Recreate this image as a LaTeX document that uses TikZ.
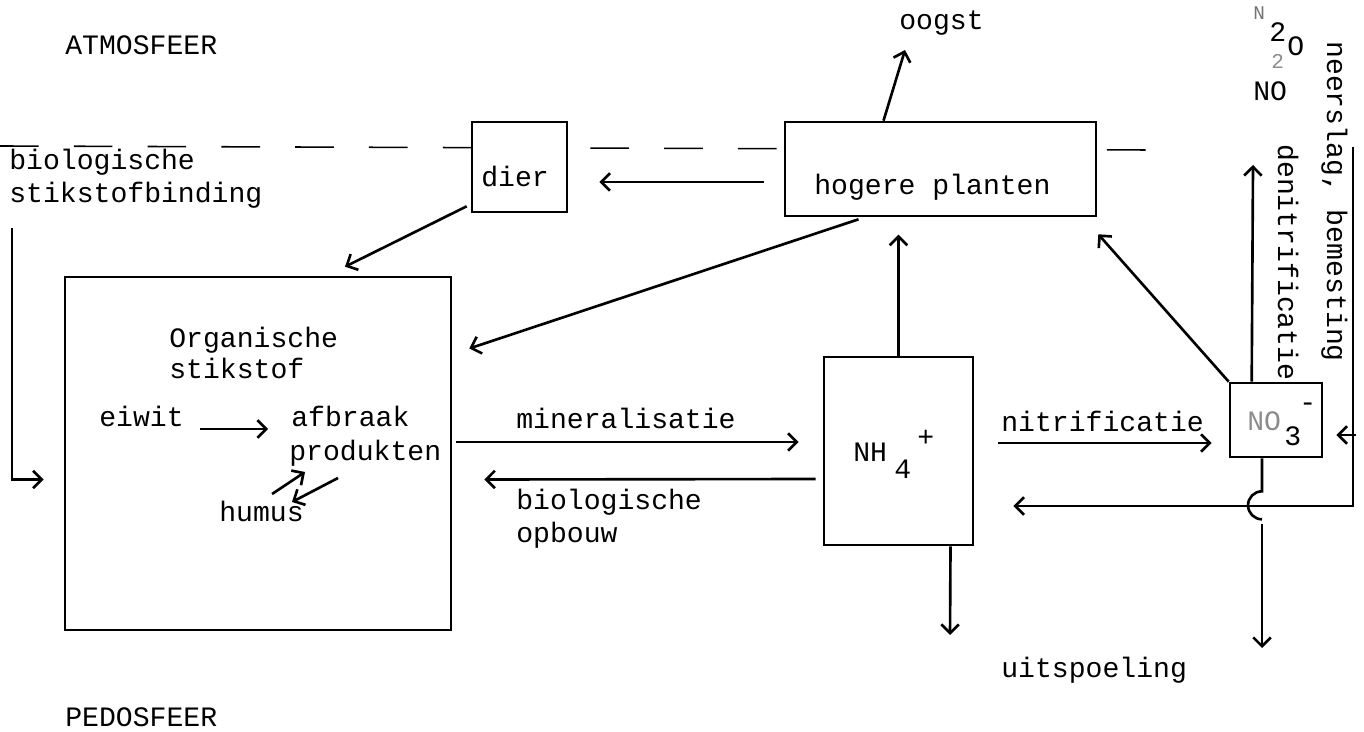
\documentclass[tikz,border=0pt]{standalone}
\usepackage{fontspec}
\setmonofont{Liberation Mono}
\usetikzlibrary{arrows.meta}

\begin{document}
\begin{tikzpicture}[x=0.02cm,y=-0.02cm,line width=1.5pt]
	\tikzset{box/.style={draw=black, fill=white, rectangle, inner sep=0pt},
	         txt/.style={font=\fontsize{16}{19}\selectfont\ttfamily, inner sep=0pt, anchor=base west},
	         arr/.style={-{Straight Barb[length=5pt,width=10pt]}}}
	\useasboundingbox (0,0) rectangle (1364,732);

	%---GRENS---
	\draw[line width=0.9pt, dash pattern=on 22pt off 20pt] (0,146) -- (1150,150);

	%---NODES---
	\node[box, minimum width=1.9cm, minimum height=1.8cm] (dier) at (519.5,167) {};
	\node[box, minimum width=6.22cm, minimum height=1.88cm] (plant) at (940.5,169) {};
	\node[box, minimum width=7.72cm, minimum height=7.06cm] (org) at (258,453.5) {};
	\node[box, minimum width=2.98cm, minimum height=3.76cm] (nh) at (898.5,451) {};
	\node[box, minimum width=1.84cm, minimum height=1.48cm] (no) at (1276,420) {};

	\coordinate (neerin) at (1353,147);
	\coordinate (hoek) at (1353,506);
	\coordinate (denitop) at (1253,165);
	\coordinate (spnh) at (950,635);
	\coordinate (spno) at (1262,648);

	%---LABELS---
	\node[txt] (atm) at (64,55) {ATMOSFEER};
	\node[txt] (ped) at (64,726) {PEDOSFEER};
	\node[txt] (oogst) at (898,30) {oogst};
	\node[txt] (bsb1) at (8,170) {biologische};
	\node[txt] (bsb2) at (8,203) {stikstofbinding};
	\node[txt] (dierl) at (480,187) {dier};
	\node[txt] (plantl) at (813,195) {hogere planten};
	\node[txt] (orgl1) at (168,348) {Organische};
	\node[txt] (orgl2) at (168,379) {stikstof};
	\node[txt] (eiwit) at (98,427) {eiwit};
	\node[txt] (afbr) at (290,427) {afbraak};
	\node[txt] (prod) at (288,460) {produkten};
	\node[txt] (humus) at (218,521) {humus};
	\node[txt] (minl) at (515,429) {mineralisatie};
	\node[txt] (bop1) at (515,509) {biologische};
	\node[txt] (bop2) at (515,542) {opbouw};
	\node[txt] (nitr) at (1000,432) {nitrificatie};
	\node[txt] (uitsp) at (1000,677) {uitspoeling};
	\node[txt] (nhl) at (852,461) {NH};
	\node[txt] (nh4) at (893,479) {4};
	\node[txt] (nhp) at (916,447) {+};
	\node[txt, text=black!45] (nol) at (1246,431) {NO};
	\node[txt] (no3) at (1283,446) {3};
	\node[txt] (nom) at (1298,412) {-};
	\node[txt, font=\fontsize{11}{13}\selectfont\ttfamily, text=black!55] (gn) at (1252,20) {N};
	\node[txt] (g2) at (1268,42) {2};
	\node[txt] (go) at (1286,56) {O};
	\node[txt, font=\fontsize{12}{14}\selectfont\ttfamily, text=black!45] (g3) at (1270,69) {2};
	\node[txt] (gno) at (1252,101) {NO};
	\node[txt, rotate=-90] (neer) at (1327,40) {neerslag, bemesting};
	\node[txt, rotate=-90] (denit) at (1278,143) {denitrificatie};

	%---EDGES---
	\draw[arr] ([shift={(-57,0)}]plant.north) -- ([shift={(7,20)}]oogst.base west);
	\draw[arr] ([shift={(-20,13)}]plant.west) -- ([shift={(31,15)}]dier.east);
	\draw[arr] ([shift={(-4,-7)}]dier.south west) -- ([shift={(87,-9)}]org.north);
	\draw[arr] ([shift={(-82,2)}]plant.south) -- ([shift={(17,-105)}]org.east);
	\draw[arr] (nh.north) -- ([shift={(0,-121)}]nh.north);
	\draw[arr] (no.north west) -- ([shift={(1,17)}]plant.south east);
	\draw[arr] ([shift={(23,0)}]no.north west) -- (denitop);

	\draw[arr] ([shift={(15,2)}]eiwit.base east) -- ([shift={(-22,2)}]afbr.base west);
	\draw[arr] ([shift={(54,-27)}]humus.base west) -- ([shift={(17,12)}]prod.base west);
	\draw[arr] ([shift={(50,18)}]prod.base west) -- ([shift={(74,-19)}]humus.base west);
	\draw[arr] ([shift={(4,25)}]bsb2.base west) |- ([shift={(-20,26)}]org.west);

	\draw[arr] ([shift={(4,-11.5)}]org.east) -- ([shift={(-24,-9)}]nh.west);
	\draw[arr] ([shift={(-7,28)}]nh.west) -- ([shift={(32,26)}]org.east);
	\draw[arr] ([shift={(24,-8)}]nh.east) -- ([shift={(-17,23)}]no.west);
	\draw[arr] ([shift={(52,0)}]nh.south) -- (spnh);

	\draw[arr] (neerin) -- (hoek) -- ([shift={(39,55)}]nh.east);
	\draw[arr] ([shift={(33,15)}]no.east) -- ([shift={(13,15)}]no.east);
	\draw ([shift={(-14,0)}]no.south) -- ++(0,33) arc[start angle=270, end angle=90, radius=14];
	\draw[arr] ([shift={(-14,66)}]no.south) -- (spno);

\end{tikzpicture}
\end{document}
